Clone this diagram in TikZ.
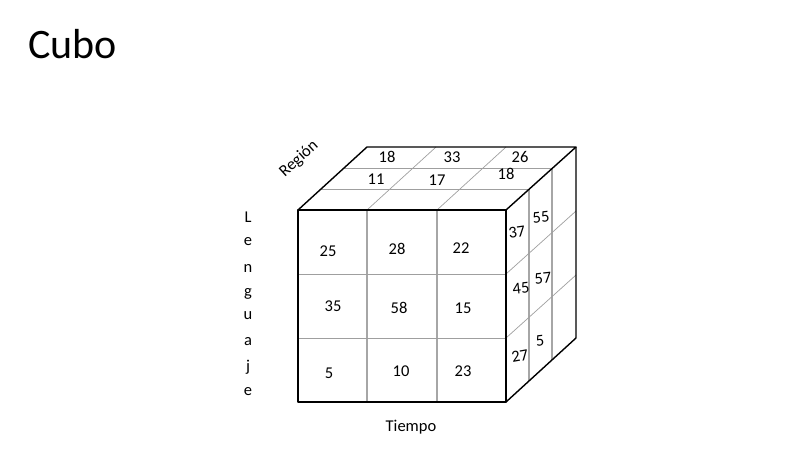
\documentclass[tikz,border=0pt]{standalone}
\usepackage{fontspec}
\setmainfont{Carlito}
\begin{document}
\begin{tikzpicture}[x=1pt,y=-1pt,
  edge/.style={black,line width=1.4pt,line join=round},
  grid/.style={gray!70,line width=1.1pt},
  gridthin/.style={gray!75,line width=0.7pt},
  num/.style={font=\fontsize{16.5}{17}\selectfont,inner sep=0pt},
  lbl/.style={font=\fontsize{16.5}{17}\selectfont,inner sep=0pt}]
\useasboundingbox (0,0) rectangle (787,463);
% front face corners
\coordinate (A) at (298,210); \coordinate (B) at (506,210);
\coordinate (C) at (506,402); \coordinate (D) at (298,402);
% back corners
\coordinate (E) at (367,147); \coordinate (F) at (576,147);
\coordinate (G) at (576,338);
% front grid
\draw[grid] (367,210) -- (367,402) (437,210) -- (437,402);
\draw[gridthin] (298,274) -- (506,274) (298,338) -- (506,338);
% top grid
\draw[gridthin] (321,189) -- (529,189) (344,168) -- (552,168);
\draw[gridthin] (367,210) -- (436,147) (437,210) -- (506,147);
% side grid
\draw[grid] (529,189) -- (529,381) (552,168) -- (552,360);
\draw[gridthin] (506,274) -- (576,211) (506,338) -- (576,275);
% outer edges
\draw[edge] (A) -- (B) -- (C) -- (D) -- cycle;
\draw[edge] (A) -- (E) -- (F) -- (B);
\draw[edge] (F) -- (G) -- (C);
% front numbers
\node[num] (n25) at (328,251) {25};
\node[num] (n28) at (397,249) {28};
\node[num] (n22) at (461,248) {22};
\node[num] (n35) at (333,306) {35};
\node[num] (n58) at (399,308) {58};
\node[num] (n15) at (463,308) {15};
\node[num] (n5a) at (329,373) {5};
\node[num] (n10) at (401,371) {10};
\node[num] (n23) at (463,371) {23};
% top numbers
\node[num] (t18a) at (387,157) {18};
\node[num] (t33) at (452,157) {33};
\node[num] (t26) at (520,157) {26};
\node[num] (t11) at (376,179) {11};
\node[num] (t17) at (437,180) {17};
\node[num] (t18b) at (506,174) {18};
% side numbers
\node[num,rotate=8] (s37) at (517,232) {37};
\node[num,rotate=6] (s55) at (541,217) {55};
\node[num,rotate=6] (s45) at (521,288) {45};
\node[num,rotate=6] (s57) at (543,278) {57};
\node[num,rotate=10] (s27) at (520,356) {27};
\node[num,rotate=6] (s5) at (540,341) {5};
% labels
\node[lbl,rotate=42] (reg) at (299,159) {Región};
\node[lbl] (tiempo) at (411,427) {Tiempo};
\node[lbl] (l1) at (248,217) {L};
\node[lbl] (l2) at (248,242) {e};
\node[lbl] (l3) at (248,268) {n};
\node[lbl] (l4) at (248,294) {g};
\node[lbl] (l5) at (248,316) {u};
\node[lbl] (l6) at (248,342) {a};
\node[lbl] (l7) at (248,367) {j};
\node[lbl] (l8) at (248,392) {e};
\node[anchor=west,inner sep=0pt,font=\fontsize{42}{42}\selectfont] (title) at (28,44) {Cubo};
\end{tikzpicture}
\end{document}
